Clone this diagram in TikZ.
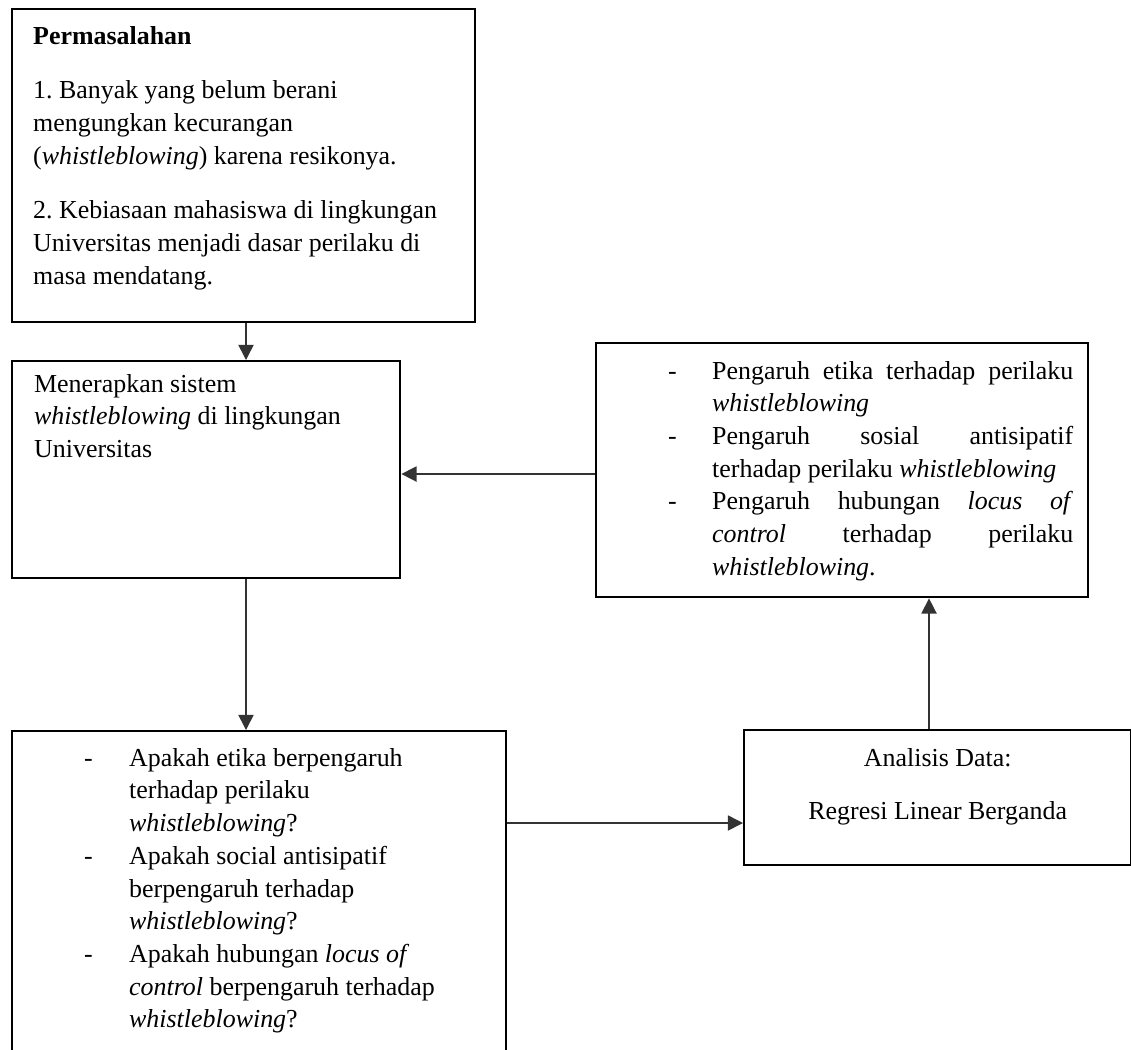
\documentclass[tikz,border=0pt]{standalone}
\usepackage{fontspec}
\setmainfont{Liberation Serif}
\usetikzlibrary{arrows.meta,positioning,calc}
\newlength\pxu
\setlength\pxu{0.463pt}
% fixed-height text block: width, height, first baseline, setup, body
\newcommand\fwtext[5]{\parbox[t][#2\pxu][t]{#1\pxu}{\fontsize{12pt}{15.14pt}\selectfont\frenchspacing\hbadness=10000\hfuzz=20pt\hyphenpenalty=10000 #4\rule{0pt}{#3\pxu}#5}}
\newcommand\fwdash[1]{\noindent\llap{\makebox[#1\pxu][l]{-}}}
\tikzset{
  fwbox/.style={
    draw=black, line width=1.1pt, inner sep=0pt, anchor=north west
  },
  fwedge/.style={-{Triangle[length=7pt,width=7pt]},line width=0.7pt,draw=black!80,fill=black!80}
}
\begin{document}
\begin{tikzpicture}[x=\pxu,y=-\pxu]
\useasboundingbox (0,0) rectangle (1131,1049);
\clip (0,0) rectangle (1131,1049);
% Left column
\node[fwbox] (masalah) at (11,8) {\fwtext{463}{313}{35}{\raggedright\leftskip=21\pxu\parskip=22\pxu}{%
  \textbf{Permasalahan}\par
  1. Banyak yang belum berani\\ mengungkan kecurangan\\ (\emph{whistleblowing}) karena resikonya.\par
  2. Kebiasaan mahasiswa di lingkungan\\ Universitas menjadi dasar perilaku di\\ masa mendatang.}};
\node[fwbox] (sistem) at (11,360) {\fwtext{388}{217}{31}{\raggedright\leftskip=22\pxu}{%
  Menerapkan sistem\\ \emph{whistleblowing} di lingkungan\\ Universitas}};
\node[fwbox] (rumusan) at (11,730) {\fwtext{494}{340}{35}{\raggedright\leftskip=117\pxu}{%
  \fwdash{45}Apakah etika berpengaruh\\ terhadap perilaku\\ \emph{whistleblowing}?\par
  \fwdash{45}Apakah social antisipatif\\ berpengaruh terhadap\\ \emph{whistleblowing}?\par
  \fwdash{45}Apakah hubungan \emph{locus of}\\ \emph{control} berpengaruh terhadap\\ \emph{whistleblowing}?}};
% Right column
\node[fwbox] (pengaruh) at (595,342) {\fwtext{492}{254}{36}{\leftskip=116\pxu\rightskip=15\pxu}{%
  \fwdash{44}Pengaruh etika terhadap perilaku\linebreak \emph{whistleblowing}\par
  \fwdash{44}Pengaruh sosial antisipatif\linebreak terhadap~perilaku~\emph{whistleblowing}\par
  \fwdash{44}Pengaruh hubungan \emph{locus of}\linebreak \emph{control} terhadap perilaku\linebreak \emph{whistleblowing}.}};
\node[fwbox] (analisis) at (743,729) {\fwtext{387}{135}{36}{\centering\parskip=21\pxu}{%
  Analisis Data:\par
  Regresi Linear Berganda}};
% Connectors
\coordinate (spine) at (246,0);
\coordinate (riser) at (929,0);
\coordinate (level) at (0,474);
\coordinate (mid) at (0,823);
\draw[fwedge] (masalah.south -| spine) -- (sistem.north -| spine);
\draw[fwedge] (sistem.south -| spine) -- (rumusan.north -| spine);
\draw[fwedge] (rumusan.east |- mid) -- (analisis.west |- mid);
\draw[fwedge] (analisis.north -| riser) -- (pengaruh.south -| riser);
\draw[fwedge] (pengaruh.west |- level) -- (sistem.east |- level);
\end{tikzpicture}
\end{document}
